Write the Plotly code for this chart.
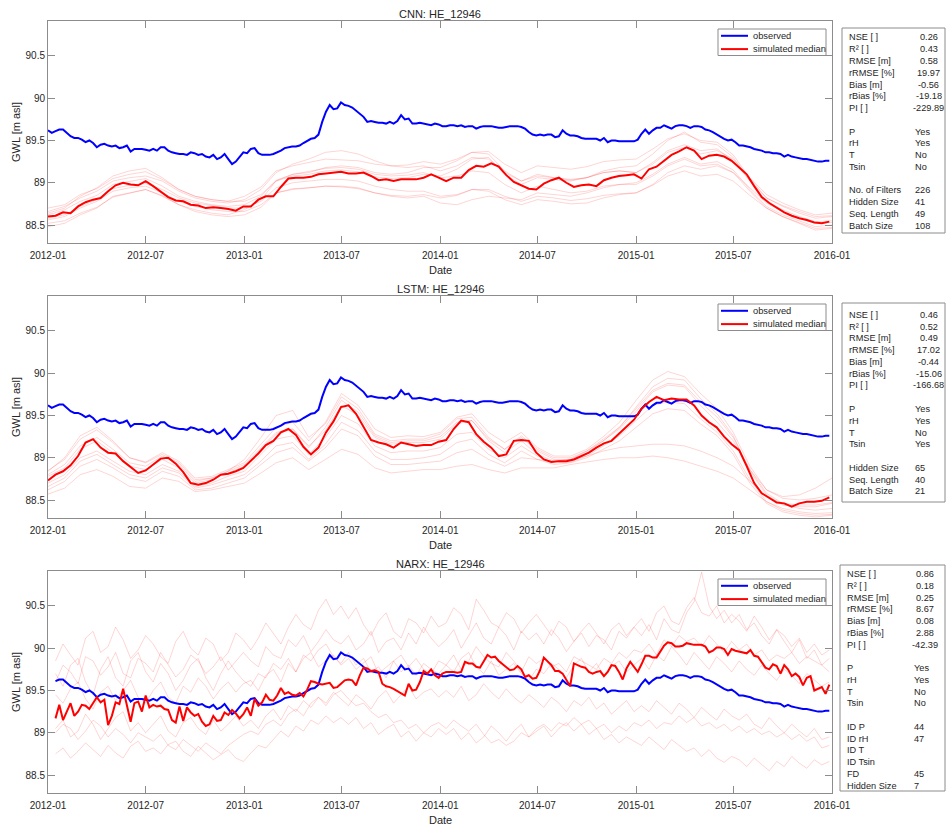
import plotly.graph_objects as go
import pandas as pd

# ---------------- data ----------------
x_tick_labels = ['2012-01', '2012-07', '2013-01', '2013-07', '2014-01',
                 '2014-07', '2015-01', '2015-07', '2016-01']
y_ticks = [88.5, 89, 89.5, 90, 90.5]
y_tick_labels = ['88.5', '89', '89.5', '90', '90.5']
legend_names = ['observed', 'simulated median']

# observed groundwater level, weekly from 2012-01-01 (209 values)
observed = [
    89.62, 89.59, 89.61, 89.63, 89.63, 89.59, 89.55, 89.53, 89.53, 89.51,
    89.48, 89.50, 89.47, 89.42, 89.45, 89.46, 89.44, 89.43, 89.44, 89.41,
    89.42, 89.44, 89.37, 89.40, 89.40, 89.40, 89.39, 89.38, 89.40, 89.38,
    89.42, 89.42, 89.38, 89.36, 89.35, 89.34, 89.34, 89.33, 89.36, 89.35,
    89.33, 89.34, 89.31, 89.30, 89.33, 89.28, 89.30, 89.34, 89.28, 89.22,
    89.25, 89.31, 89.36, 89.35, 89.40, 89.41, 89.35, 89.33, 89.33, 89.33,
    89.34, 89.36, 89.38, 89.41, 89.42, 89.43, 89.43, 89.44, 89.47, 89.50,
    89.52, 89.53, 89.57, 89.72, 89.84, 89.92, 89.87, 89.88, 89.95, 89.92,
    89.91, 89.89, 89.85, 89.81, 89.78, 89.72, 89.73, 89.72, 89.71, 89.71,
    89.70, 89.72, 89.70, 89.73, 89.80, 89.75, 89.76, 89.70, 89.70, 89.71,
    89.70, 89.69, 89.68, 89.70, 89.69, 89.67, 89.67, 89.68, 89.68, 89.67,
    89.68, 89.66, 89.67, 89.67, 89.64, 89.66, 89.67, 89.67, 89.67, 89.66,
    89.65, 89.65, 89.66, 89.67, 89.67, 89.67, 89.66, 89.64, 89.60, 89.57,
    89.56, 89.57, 89.56, 89.57, 89.57, 89.54, 89.55, 89.62, 89.58, 89.56,
    89.56, 89.55, 89.53, 89.52, 89.52, 89.52, 89.52, 89.50, 89.53, 89.48,
    89.50, 89.50, 89.49, 89.49, 89.49, 89.49, 89.49, 89.51, 89.58, 89.63,
    89.58, 89.62, 89.65, 89.65, 89.68, 89.66, 89.64, 89.67, 89.68, 89.68,
    89.67, 89.65, 89.67, 89.67, 89.66, 89.63, 89.62, 89.60, 89.57, 89.54,
    89.52, 89.50, 89.51, 89.48, 89.44, 89.44, 89.43, 89.42, 89.40, 89.39,
    89.38, 89.36, 89.36, 89.35, 89.35, 89.34, 89.31, 89.33, 89.31, 89.30,
    89.29, 89.28, 89.28, 89.27, 89.26, 89.25, 89.25, 89.26, 89.26]

# CNN simulated median, every 2 weeks from 2012-01-01 (105 values)
cnn_median = [
    88.60, 88.61, 88.65, 88.64, 88.72, 88.77, 88.80, 88.82, 88.90, 88.97,
    89.00, 88.98, 88.97, 89.02, 88.96, 88.89, 88.83, 88.79, 88.78, 88.74,
    88.73, 88.70, 88.71, 88.70, 88.69, 88.67, 88.72, 88.72, 88.80, 88.84,
    88.84, 88.95, 89.05, 89.06, 89.06, 89.07, 89.10, 89.11, 89.12, 89.13,
    89.11, 89.11, 89.12, 89.08, 89.03, 89.04, 89.02, 89.04, 89.04, 89.04,
    89.06, 89.10, 89.06, 89.02, 89.06, 89.06, 89.15, 89.20, 89.19, 89.23,
    89.19, 89.09, 89.01, 88.97, 88.93, 88.92, 88.99, 89.03, 89.06, 89.00,
    88.95, 88.97, 88.98, 88.96, 89.03, 89.06, 89.08, 89.09, 89.10, 89.05,
    89.16, 89.19, 89.26, 89.33, 89.37, 89.42, 89.38, 89.28, 89.32, 89.33,
    89.31, 89.26, 89.18, 89.10, 88.96, 88.83, 88.76, 88.70, 88.65, 88.61,
    88.58, 88.56, 88.53, 88.52, 88.54]

# CNN ensemble members, monthly from 2012-01 to 2016-01 (49 values each)
cnn_members = [
    [88.70, 88.74, 88.86, 88.93, 89.05, 89.10, 89.13, 89.04, 88.92, 88.84, 88.80, 88.78,
     88.84, 88.95, 89.14, 89.20, 89.24, 89.28, 89.27, 89.26, 89.22, 89.20, 89.21, 89.25,
     89.22, 89.28, 89.36, 89.37, 89.22, 89.12, 89.20, 89.18, 89.16, 89.19, 89.25, 89.27,
     89.28, 89.40, 89.52, 89.58, 89.50, 89.48, 89.33, 89.05, 88.82, 88.72, 88.64, 88.58, 88.60],
    [88.52, 88.55, 88.64, 88.71, 88.83, 88.88, 88.92, 88.85, 88.74, 88.66, 88.62, 88.60,
     88.62, 88.71, 88.88, 88.93, 88.94, 88.96, 88.95, 88.93, 88.88, 88.85, 88.84, 88.86,
     88.82, 88.85, 88.92, 88.92, 88.84, 88.78, 88.84, 88.82, 88.79, 88.81, 88.85, 88.87,
     88.88, 88.97, 89.08, 89.14, 89.08, 89.10, 89.02, 88.85, 88.70, 88.60, 88.53, 88.46, 88.47],
    [88.66, 88.72, 88.82, 88.90, 89.02, 89.06, 89.08, 89.02, 88.90, 88.82, 88.78, 88.76,
     88.80, 88.92, 89.12, 89.22, 89.28, 89.36, 89.38, 89.34, 89.26, 89.20, 89.18, 89.20,
     89.14, 89.20, 89.30, 89.28, 89.12, 89.02, 89.10, 89.06, 89.03, 89.06, 89.12, 89.14,
     89.12, 89.24, 89.38, 89.45, 89.38, 89.40, 89.26, 89.02, 88.82, 88.73, 88.66, 88.60, 88.61],
    [88.56, 88.60, 88.70, 88.78, 88.90, 88.94, 88.96, 88.88, 88.78, 88.72, 88.68, 88.66,
     88.66, 88.74, 88.88, 88.92, 88.94, 88.96, 88.96, 88.94, 88.88, 88.84, 88.82, 88.84,
     88.76, 88.74, 88.80, 88.84, 88.82, 88.80, 88.88, 88.86, 88.84, 88.88, 88.94, 88.98,
     89.00, 89.10, 89.22, 89.30, 89.22, 89.25, 89.15, 88.92, 88.72, 88.62, 88.55, 88.48, 88.50],
    [88.64, 88.70, 88.84, 88.94, 89.08, 89.14, 89.17, 89.06, 88.92, 88.84, 88.80, 88.78,
     88.78, 88.86, 89.02, 89.08, 89.10, 89.14, 89.15, 89.13, 89.07, 89.05, 89.06, 89.10,
     89.08, 89.16, 89.28, 89.30, 89.10, 88.98, 89.06, 89.04, 89.02, 89.06, 89.14, 89.18,
     89.20, 89.34, 89.50, 89.60, 89.48, 89.45, 89.30, 89.02, 88.78, 88.68, 88.60, 88.54, 88.55],
    [88.48, 88.52, 88.62, 88.70, 88.84, 88.88, 88.92, 88.84, 88.74, 88.68, 88.64, 88.62,
     88.68, 88.80, 89.02, 89.10, 89.13, 89.17, 89.18, 89.16, 89.10, 89.08, 89.09, 89.12,
     89.06, 89.08, 89.14, 89.12, 88.98, 88.88, 88.96, 88.92, 88.88, 88.90, 88.96, 88.98,
     88.98, 89.08, 89.20, 89.28, 89.20, 89.22, 89.12, 88.90, 88.70, 88.60, 88.52, 88.44, 88.46],
    [88.62, 88.68, 88.78, 88.85, 88.98, 89.02, 89.05, 88.96, 88.84, 88.78, 88.74, 88.72,
     88.74, 88.84, 89.03, 89.10, 89.12, 89.18, 89.20, 89.18, 89.12, 89.10, 89.12, 89.18,
     89.18, 89.26, 89.36, 89.34, 89.14, 89.02, 89.08, 89.06, 89.04, 89.06, 89.12, 89.14,
     89.12, 89.22, 89.36, 89.42, 89.34, 89.38, 89.28, 89.06, 88.86, 88.76, 88.68, 88.62, 88.64],
    [88.58, 88.62, 88.72, 88.80, 88.93, 88.97, 88.99, 88.92, 88.82, 88.76, 88.73, 88.70,
     88.70, 88.78, 88.94, 89.00, 89.02, 89.04, 89.04, 89.02, 88.96, 88.92, 88.90, 88.90,
     88.84, 88.86, 88.92, 88.90, 88.80, 88.74, 88.80, 88.78, 88.75, 88.76, 88.82, 88.86,
     88.88, 88.98, 89.12, 89.20, 89.16, 89.20, 89.12, 88.94, 88.76, 88.66, 88.58, 88.52, 88.53],
]

# LSTM simulated median, every 2 weeks (105 values)
lstm_median = [
    88.73, 88.80, 88.84, 88.91, 89.02, 89.18, 89.22, 89.12, 89.06, 89.05,
    88.96, 88.89, 88.82, 88.85, 88.92, 88.99, 89.00, 88.93, 88.83, 88.70,
    88.68, 88.70, 88.74, 88.80, 88.81, 88.84, 88.88, 88.96, 89.05, 89.15,
    89.20, 89.30, 89.34, 89.27, 89.13, 89.04, 89.12, 89.30, 89.43, 89.60,
    89.62, 89.52, 89.36, 89.21, 89.18, 89.16, 89.12, 89.18, 89.16, 89.14,
    89.15, 89.15, 89.19, 89.21, 89.34, 89.44, 89.42, 89.28, 89.19, 89.12,
    89.02, 89.04, 89.20, 89.21, 89.20, 89.06, 88.98, 88.95, 88.96, 88.96,
    88.98, 89.02, 89.06, 89.12, 89.17, 89.20, 89.28, 89.36, 89.45, 89.58,
    89.66, 89.72, 89.68, 89.70, 89.69, 89.69, 89.62, 89.50, 89.42, 89.36,
    89.25, 89.16, 89.09, 88.90, 88.70, 88.58, 88.52, 88.47, 88.46, 88.42,
    88.46, 88.48, 88.48, 88.49, 88.53]

# LSTM ensemble members, monthly (49 values each)
lstm_members = [
    [88.85, 88.98, 89.22, 89.33, 89.18, 89.00, 88.95, 89.06, 88.96, 88.76, 88.78, 88.86,
     88.94, 89.16, 89.36, 89.42, 89.20, 89.42, 89.76, 89.62, 89.34, 89.24, 89.26, 89.25,
     89.30, 89.48, 89.52, 89.30, 89.18, 89.30, 89.12, 89.02, 89.02, 89.10, 89.25, 89.42,
     89.68, 89.92, 90.02, 89.96, 89.76, 89.58, 89.30, 88.90, 88.62, 88.52, 88.50, 88.52, 88.56],
    [88.80, 88.92, 89.14, 89.24, 89.10, 88.94, 88.90, 89.02, 88.92, 88.72, 88.76, 88.84,
     88.92, 89.12, 89.30, 89.34, 89.12, 89.36, 89.68, 89.54, 89.26, 89.18, 89.20, 89.20,
     89.25, 89.42, 89.44, 89.22, 89.10, 89.26, 89.10, 89.00, 89.00, 89.08, 89.22, 89.36,
     89.58, 89.80, 89.88, 89.86, 89.66, 89.48, 89.24, 88.86, 88.58, 88.46, 88.44, 88.44, 88.47],
    [88.62, 88.72, 88.90, 88.98, 88.88, 88.76, 88.72, 88.84, 88.78, 88.62, 88.64, 88.70,
     88.76, 88.92, 89.06, 89.12, 88.96, 89.12, 89.34, 89.26, 89.02, 88.92, 88.92, 88.94,
     88.96, 89.06, 89.10, 88.98, 88.90, 89.00, 88.98, 88.96, 88.98, 89.02, 89.08, 89.12,
     89.14, 89.16, 89.16, 89.14, 89.08, 89.00, 88.90, 88.72, 88.55, 88.45, 88.40, 88.38, 88.40],
    [88.57, 88.64, 88.80, 88.86, 88.78, 88.66, 88.64, 88.76, 88.72, 88.60, 88.62, 88.66,
     88.70, 88.82, 88.94, 89.00, 88.86, 88.98, 89.10, 89.04, 88.88, 88.82, 88.84, 88.86,
     88.86, 88.90, 88.92, 88.86, 88.82, 88.88, 88.88, 88.88, 88.92, 88.95, 88.98, 89.00,
     89.00, 89.02, 89.00, 88.96, 88.90, 88.84, 88.76, 88.62, 88.48, 88.40, 88.36, 88.34, 88.35],
    [88.84, 89.00, 89.26, 89.36, 89.20, 89.00, 88.94, 89.04, 88.94, 88.74, 88.76, 88.82,
     88.90, 89.10, 89.28, 89.34, 89.14, 89.32, 89.62, 89.50, 89.24, 89.16, 89.18, 89.18,
     89.22, 89.40, 89.44, 89.20, 89.06, 89.20, 89.04, 88.96, 88.98, 89.06, 89.20, 89.34,
     89.55, 89.78, 89.86, 89.84, 89.62, 89.42, 89.20, 88.86, 88.62, 88.54, 88.56, 88.64, 88.76],
    [88.70, 88.80, 89.00, 89.08, 88.96, 88.84, 88.80, 88.92, 88.84, 88.66, 88.70, 88.78,
     88.84, 89.04, 89.22, 89.26, 89.04, 89.24, 89.50, 89.40, 89.14, 89.06, 89.08, 89.08,
     89.12, 89.28, 89.30, 89.10, 89.00, 89.14, 89.02, 88.94, 88.95, 89.02, 89.14, 89.26,
     89.44, 89.62, 89.66, 89.64, 89.46, 89.30, 89.08, 88.74, 88.48, 88.38, 88.34, 88.32, 88.33],
    [88.78, 88.88, 89.10, 89.20, 89.06, 88.90, 88.86, 88.98, 88.88, 88.70, 88.74, 88.84,
     88.98, 89.24, 89.50, 89.56, 89.24, 89.40, 89.72, 89.58, 89.28, 89.20, 89.22, 89.22,
     89.28, 89.46, 89.48, 89.24, 89.10, 89.24, 89.08, 88.98, 88.98, 89.08, 89.20, 89.36,
     89.60, 89.84, 89.94, 89.92, 89.70, 89.52, 89.26, 88.84, 88.56, 88.44, 88.42, 88.42, 88.46],
    [88.66, 88.76, 88.96, 89.04, 88.92, 88.80, 88.76, 88.88, 88.82, 88.64, 88.68, 88.74,
     88.80, 88.96, 89.14, 89.18, 88.98, 89.16, 89.42, 89.32, 89.08, 88.98, 88.98, 89.00,
     89.04, 89.18, 89.22, 89.04, 88.94, 89.08, 88.98, 88.92, 88.94, 89.00, 89.10, 89.20,
     89.36, 89.52, 89.58, 89.56, 89.40, 89.26, 89.04, 88.70, 88.46, 88.36, 88.32, 88.30, 88.32],
]

# NARX simulated median, weekly from week 2 (207 values)
narx_median = [
    89.17, 89.33, 89.15, 89.25, 89.35, 89.20, 89.25, 89.33, 89.32, 89.28,
    89.35, 89.42, 89.36, 89.39, 89.09, 89.20, 89.36, 89.34, 89.52, 89.32,
    89.13, 89.35, 89.37, 89.25, 89.44, 89.30, 89.33, 89.31, 89.32, 89.28,
    89.27, 89.15, 89.12, 89.31, 89.14, 89.30, 89.24, 89.20, 89.22, 89.13,
    89.08, 89.10, 89.20, 89.14, 89.15, 89.24, 89.21, 89.27, 89.23, 89.17,
    89.22, 89.30, 89.20, 89.40, 89.32, 89.36, 89.45, 89.39, 89.38, 89.44,
    89.53, 89.46, 89.48, 89.45, 89.44, 89.47, 89.43, 89.51, 89.61, 89.60,
    89.58, 89.57, 89.58, 89.59, 89.53, 89.54, 89.58, 89.62, 89.63, 89.62,
    89.56, 89.68, 89.77, 89.76, 89.73, 89.74, 89.72, 89.58, 89.55, 89.54,
    89.52, 89.49, 89.47, 89.44, 89.58, 89.50, 89.51, 89.60, 89.73, 89.70,
    89.75, 89.68, 89.65, 89.70, 89.72, 89.72, 89.72, 89.71, 89.72, 89.84,
    89.82, 89.82, 89.78, 89.77, 89.85, 89.92, 89.89, 89.90, 89.85, 89.81,
    89.78, 89.74, 89.75, 89.79, 89.75, 89.66, 89.68, 89.64, 89.65, 89.74,
    89.89, 89.85, 89.80, 89.73, 89.73, 89.70, 89.62, 89.55, 89.82, 89.80,
    89.78, 89.77, 89.72, 89.70, 89.72, 89.73, 89.67, 89.72, 89.80, 89.79,
    89.72, 89.63, 89.76, 89.84, 89.78, 89.72, 89.81, 89.91, 89.91, 89.89,
    89.89, 89.96, 90.03, 90.07, 90.06, 90.02, 90.02, 90.03, 90.06, 90.05,
    90.04, 90.04, 90.04, 90.02, 89.95, 89.97, 90.01, 90.01, 89.99, 89.92,
    89.99, 89.97, 89.96, 89.95, 89.94, 89.98, 89.91, 89.90, 89.83, 89.77,
    89.75, 89.81, 89.79, 89.70, 89.80, 89.75, 89.67, 89.70, 89.66, 89.56,
    89.65, 89.67, 89.50, 89.52, 89.54, 89.46, 89.57]

# NARX ensemble members, every 2 weeks from week 2 (104 values each)
narx_members = [
    [89.85, 90.05, 89.92, 89.80, 90.12, 90.20, 89.95, 90.02, 90.25, 90.10, 89.88, 89.98, 90.15,
     90.05, 89.90, 89.82, 90.08, 90.20, 90.00, 89.92, 90.12, 90.05, 89.85, 89.95, 90.18, 90.10,
     89.98, 90.12, 90.30, 90.18, 90.05, 90.25, 90.40, 90.28, 90.22, 90.45, 90.58, 90.40, 90.50,
     90.35, 90.48, 90.28, 90.15, 90.32, 90.42, 90.20, 90.12, 90.35, 90.30, 90.18, 90.38, 90.25,
     90.30, 90.48, 90.40, 90.22, 90.58, 90.45, 90.30, 90.25, 90.42, 90.35, 90.18, 90.30, 90.40,
     90.28, 90.15, 90.32, 90.25, 90.08, 90.20, 90.30, 90.18, 90.05, 90.22, 90.30, 90.15, 90.25,
     90.35, 90.20, 90.42, 90.50, 90.32, 90.28, 90.48, 90.60, 90.42, 90.38, 90.50, 90.30, 90.40,
     90.32, 90.20, 90.38, 90.25, 90.10, 90.22, 90.15, 90.02, 90.12, 89.95, 90.05, 89.92, 89.98],
    [89.60, 89.80, 89.72, 89.58, 89.90, 89.85, 89.68, 89.78, 89.95, 89.70, 89.65, 89.88, 89.82,
     89.72, 89.95, 89.80, 89.66, 89.75, 89.92, 89.85, 89.70, 89.78, 89.90, 89.74, 89.85, 89.95,
     89.85, 89.78, 90.02, 89.92, 89.88, 90.10, 90.02, 90.15, 89.96, 90.08, 90.22, 90.10, 90.05,
     90.15, 89.98, 90.05, 90.20, 89.95, 90.08, 90.12, 89.98, 90.18, 90.05, 90.25, 90.12, 90.02,
     90.10, 90.22, 90.00, 90.15, 90.30, 90.12, 90.05, 90.25, 90.15, 89.98, 90.20, 90.10, 90.18,
     90.05, 90.22, 90.12, 89.96, 90.08, 90.18, 90.02, 90.15, 90.10, 89.98, 90.20, 90.12, 90.25,
     90.15, 90.28, 90.10, 90.35, 90.22, 90.18, 90.42, 90.55, 90.90, 90.50, 90.35, 90.45, 90.30,
     90.40, 90.22, 90.30, 90.15, 90.05, 90.22, 90.08, 89.95, 90.10, 89.88, 89.98, 89.80, 89.72],
    [89.45, 89.35, 89.52, 89.60, 89.40, 89.28, 89.48, 89.55, 89.38, 89.50, 89.62, 89.42, 89.35,
     89.50, 89.60, 89.42, 89.35, 89.55, 89.48, 89.65, 89.55, 89.40, 89.52, 89.60, 89.48, 89.58,
     89.62, 89.50, 89.68, 89.75, 89.60, 89.82, 89.72, 89.88, 89.95, 89.78, 89.85, 89.92, 89.80,
     89.88, 89.75, 89.82, 89.90, 89.70, 89.78, 89.85, 89.72, 89.80, 89.68, 89.82, 89.75, 89.70,
     89.80, 89.72, 89.88, 89.95, 89.78, 89.70, 89.85, 89.68, 89.75, 89.82, 89.70, 89.62, 89.75,
     89.70, 89.82, 89.75, 89.65, 89.80, 89.88, 89.72, 89.82, 89.68, 89.78, 89.85, 89.72, 89.80,
     89.88, 89.75, 89.92, 89.85, 90.02, 89.92, 89.80, 89.95, 89.85, 89.75, 89.90, 89.82, 89.72,
     89.85, 89.75, 89.68, 89.80, 89.70, 89.62, 89.75, 89.68, 89.58, 89.70, 89.62, 89.55, 89.60],
    [89.05, 89.15, 88.95, 89.02, 89.22, 89.10, 88.92, 89.05, 89.18, 89.25, 89.02, 89.12, 89.00,
     89.10, 89.20, 89.02, 88.95, 89.12, 89.18, 89.05, 88.98, 89.15, 89.02, 89.10, 89.20, 89.08,
     89.15, 89.05, 89.20, 89.28, 89.15, 89.32, 89.25, 89.38, 89.30, 89.42, 89.35, 89.48, 89.40,
     89.32, 89.45, 89.38, 89.28, 89.42, 89.50, 89.35, 89.45, 89.55, 89.40, 89.48, 89.52, 89.42,
     89.50, 89.42, 89.55, 89.38, 89.45, 89.58, 89.48, 89.40, 89.52, 89.42, 89.35, 89.45, 89.38,
     89.30, 89.42, 89.35, 89.25, 89.38, 89.32, 89.42, 89.28, 89.35, 89.22, 89.30, 89.38, 89.25,
     89.32, 89.25, 89.38, 89.30, 89.22, 89.35, 89.28, 89.18, 89.30, 89.22, 89.15, 89.28, 89.20,
     89.15, 89.22, 89.10, 89.05, 89.18, 89.08, 89.00, 89.10, 89.02, 88.95, 89.05, 88.92, 88.95],
    [88.75, 88.82, 88.70, 88.78, 88.88, 88.80, 88.72, 88.85, 88.76, 88.70, 88.84, 88.90, 88.78,
     88.82, 88.75, 88.86, 88.90, 88.78, 88.72, 88.84, 88.76, 88.68, 88.74, 88.80, 88.70, 88.66,
     88.76, 88.85, 88.82, 88.92, 89.02, 88.95, 89.08, 89.02, 89.15, 89.10, 89.20, 89.12, 89.18,
     89.10, 89.18, 89.05, 89.12, 88.98, 89.05, 89.10, 88.95, 89.02, 88.90, 89.00, 88.95, 89.05,
     88.98, 89.05, 88.92, 89.00, 88.88, 88.95, 89.08, 89.00, 88.90, 89.02, 89.10, 88.95, 89.02,
     89.08, 88.95, 89.05, 89.12, 89.02, 89.10, 88.98, 89.05, 88.92, 88.98, 88.88, 88.95, 88.90,
     88.85, 88.95, 88.88, 88.80, 88.92, 88.85, 88.78, 88.82, 88.72, 88.80, 88.70, 88.65, 88.72,
     88.68, 88.60, 88.70, 88.62, 88.55, 88.66, 88.60, 88.72, 88.64, 88.58, 88.68, 88.62, 88.66],
    [89.00, 89.10, 89.05, 88.92, 89.02, 89.15, 89.08, 88.95, 89.05, 88.98, 88.88, 89.00, 88.95,
     88.90, 88.98, 88.85, 88.80, 88.92, 88.85, 88.78, 88.88, 88.82, 88.75, 88.85, 88.92, 88.98,
     89.02, 88.98, 89.10, 89.15, 89.08, 89.22, 89.28, 89.20, 89.35, 89.42, 89.32, 89.45, 89.50,
     89.40, 89.32, 89.35, 89.25, 89.18, 89.22, 89.12, 89.15, 89.05, 89.10, 89.00, 89.08, 89.12,
     89.05, 89.15, 89.08, 89.02, 89.10, 88.98, 88.88, 88.92, 88.85, 88.90, 89.00, 88.95, 89.05,
     89.10, 89.02, 89.12, 89.08, 89.18, 89.10, 89.15, 89.05, 89.10, 89.00, 89.08, 89.02, 89.12,
     89.08, 89.15, 89.05, 89.12, 89.10, 89.20, 89.12, 89.18, 89.08, 89.12, 89.05, 89.10, 89.02,
     89.08, 89.00, 89.05, 88.98, 89.02, 88.95, 89.00, 88.92, 88.98, 88.90, 88.95, 88.82, 88.85],
    [89.70, 89.55, 89.80, 89.88, 89.60, 89.45, 89.75, 89.90, 89.65, 89.55, 89.85, 89.95, 89.72,
     89.60, 89.82, 89.70, 89.50, 89.62, 89.80, 89.88, 89.65, 89.50, 89.70, 89.85, 89.72, 89.62,
     89.55, 89.70, 89.65, 89.82, 89.75, 89.88, 89.72, 89.92, 89.85, 89.98, 90.05, 89.90, 89.82,
     89.95, 89.80, 89.88, 89.72, 89.78, 89.65, 89.85, 89.92, 89.78, 89.88, 89.75, 89.70, 89.85,
     89.80, 89.92, 89.75, 89.85, 90.02, 89.90, 89.82, 89.78, 89.95, 89.85, 89.72, 89.90, 89.82,
     89.88, 89.78, 89.82, 89.72, 89.90, 89.85, 89.80, 89.75, 89.88, 89.82, 89.95, 89.88, 89.98,
     89.95, 90.05, 89.92, 90.10, 90.02, 90.15, 90.08, 90.12, 90.02, 90.15, 90.05, 89.95, 90.08,
     89.98, 90.05, 89.92, 89.98, 89.85, 89.92, 89.88, 89.95, 89.82, 89.90, 89.85, 89.80, 89.88],
]

# side-box texts
metric_labels = ['NSE [ ]', 'R² [ ]', 'RMSE [m]', 'rRMSE [%]', 'Bias [m]', 'rBias [%]', 'PI [ ]']
input_labels = ['P', 'rH', 'T', 'Tsin']
cnn_metrics = ['0.26', '0.43', '0.58', '19.97', '-0.56', '-19.18', '-229.89']
lstm_metrics = ['0.46', '0.52', '0.49', '17.02', '-0.44', '-15.06', '-166.68']
narx_metrics = ['0.86', '0.18', '0.25', '8.67', '0.08', '2.88', '-42.39']
cnn_inputs = ['Yes', 'Yes', 'No', 'No']
lstm_inputs = ['Yes', 'Yes', 'No', 'Yes']
narx_inputs = ['Yes', 'Yes', 'No', 'No']
cnn_hp_labels = ['No. of Filters', 'Hidden Size', 'Seq. Length', 'Batch Size']
cnn_hp = ['226', '41', '49', '108']
lstm_hp_labels = ['Hidden Size', 'Seq. Length', 'Batch Size']
lstm_hp = ['65', '40', '21']
narx_hp_labels = ['ID P', 'ID rH', 'ID T', 'ID Tsin', 'FD', 'Hidden Size']
narx_hp = ['44', '47', '', '', '45', '7']
titles = ['CNN: HE_12946', 'LSTM: HE_12946', 'NARX: HE_12946']

# ---------------- dates ----------------
weekly = pd.date_range('2012-01-01', periods=209, freq='7D')
biweekly0 = weekly[0::2]          # weeks 0,2,...,208
biweekly2 = weekly[2::2]          # weeks 2,4,...,208
monthly = pd.date_range('2012-01-01', '2016-01-01', freq='MS')
x_tick_vals = [pd.Timestamp(t + '-01') for t in x_tick_labels]

# ---------------- layout helpers ----------------
W, H = 947, 828
FONT = 'Liberation Sans, Arial, Helvetica, sans-serif'
TXT = '#262626'
LINE = '#8c8c8c'
OBS_C = '#0000ff'
MED_C = '#ff0000'
def px(x): return x / W
def py(y): return 1 - y / H

panels = [
    dict(top=21, bot=243, box=(842, 28, 945, 233), lab_x=847, val_x=928.5, col2_x=913, row0=37.5,
         metrics=cnn_metrics, inputs=cnn_inputs, hpl=cnn_hp_labels, hp=cnn_hp,
         med_x=biweekly0, med=cnn_median, mem_x=monthly, members=cnn_members, obs_x=weekly, obs=observed),
    dict(top=296, bot=518, box=(842, 303, 945, 502), lab_x=847, val_x=928.5, col2_x=913, row0=315,
         metrics=lstm_metrics, inputs=lstm_inputs, hpl=lstm_hp_labels, hp=lstm_hp,
         med_x=biweekly0, med=lstm_median, mem_x=monthly, members=lstm_members, obs_x=weekly, obs=observed),
    dict(top=571, bot=793, box=(840, 565, 945, 791), lab_x=845, val_x=924.5, col2_x=912, row0=574,
         metrics=narx_metrics, inputs=narx_inputs, hpl=narx_hp_labels, hp=narx_hp,
         med_x=weekly[2:], med=narx_median, mem_x=biweekly2, members=narx_members, obs_x=weekly[2:], obs=observed[2:]),
]

fig = go.Figure()
annotations = []
shapes = []
layout = dict()
X0, X1 = 48, 832
ROW = 11.75

def txt(text, x, y, anchor='left', size=9.2, angle=0):
    return dict(text=text, x=px(x), y=py(y), xref='paper', yref='paper', showarrow=False,
                xanchor=anchor, yanchor='middle', textangle=angle,
                font=dict(size=size, color=TXT, family=FONT))

for k, p in enumerate(panels):
    n = '' if k == 0 else str(k + 1)
    xa, ya = 'x' + n, 'y' + n
    for m in p['members']:
        fig.add_trace(go.Scatter(x=p['mem_x'], y=m, mode='lines', xaxis=xa, yaxis=ya,
                                 line=dict(color='rgba(255,0,0,0.17)', width=1),
                                 showlegend=False, hoverinfo='skip'))
    fig.add_trace(go.Scatter(x=p['obs_x'], y=p['obs'], mode='lines', name=legend_names[0], xaxis=xa, yaxis=ya,
                             line=dict(color=OBS_C, width=2), showlegend=False))
    fig.add_trace(go.Scatter(x=p['med_x'], y=p['med'], mode='lines', name=legend_names[1], xaxis=xa, yaxis=ya,
                             line=dict(color=MED_C, width=2), showlegend=False))

    layout['xaxis' + n] = dict(domain=[px(X0), px(X1)], anchor=ya, range=['2012-01-01', '2016-01-01'],
                               tickvals=x_tick_vals, ticktext=x_tick_labels, ticks='inside', ticklen=7,
                               tickcolor=LINE, showline=True, linecolor=LINE, linewidth=1, mirror='ticks',
                               showgrid=False, zeroline=False, automargin=False, ticklabelstandoff=3,
                               tickfont=dict(size=10, color=TXT, family=FONT))
    layout['yaxis' + n] = dict(domain=[py(p['bot']), py(p['top'])], anchor=xa, range=[88.287, 90.914],
                               tickvals=y_ticks, ticktext=y_tick_labels,
                               ticks='inside', ticklen=7, tickcolor=LINE, showline=True, linecolor=LINE,
                               linewidth=1, mirror='ticks', showgrid=False, zeroline=False, automargin=False,
                               tickfont=dict(size=10, color=TXT, family=FONT))

    # title, axis labels
    annotations.append(txt(titles[k], (X0 + X1) / 2, p['top'] - 7, 'center', 11))
    annotations.append(txt('Date', (X0 + X1) / 2, p['bot'] + 27, 'center', 11))
    annotations.append(txt('GWL [m asl]', 16, (p['top'] + p['bot']) / 2, 'center', 11, -90))

    # legend (box, line samples, labels)
    lt = p['top'] + 8
    shapes.append(dict(type='rect', xref='paper', yref='paper', x0=px(718), x1=px(826),
                       y0=py(lt + 26.5), y1=py(lt), line=dict(color=LINE, width=1), fillcolor='white'))
    for r, (name, col) in enumerate(zip(legend_names, [OBS_C, MED_C])):
        yy = lt + 6.8 + r * 13.3
        shapes.append(dict(type='line', xref='paper', yref='paper', x0=px(721), x1=px(748),
                           y0=py(yy), y1=py(yy), line=dict(color=col, width=2)))
        annotations.append(txt(name, 750.5, yy, 'left', 9.3))

    # side box
    bx0, by0, bx1, by1 = p['box']
    shapes.append(dict(type='rect', xref='paper', yref='paper', x0=px(bx0), x1=px(bx1), y0=py(by1), y1=py(by0),
                       line=dict(color=LINE, width=1), fillcolor='white', layer='below'))
    rows = []
    for lab, val in zip(metric_labels, p['metrics']):
        rows.append((lab, val, 'c'))
    rows.append(None)
    for lab, val in zip(input_labels, p['inputs']):
        rows.append((lab, val, 'l'))
    rows.append(None)
    for lab, val in zip(p['hpl'], p['hp']):
        rows.append((lab, val, 'l'))
    for r, row in enumerate(rows):
        if row is None:
            continue
        yy = p['row0'] + r * ROW
        lab, val, al = row
        annotations.append(txt(lab, p['lab_x'], yy))
        if val:
            if al == 'c':
                annotations.append(txt(val, p['val_x'], yy, 'center'))
            else:
                annotations.append(txt(val, p['col2_x'], yy, 'left'))

fig.update_layout(**layout)
fig.update_layout(width=W, height=H, autosize=False,
                  margin=dict(l=0, r=0, t=0, b=0, pad=0, autoexpand=False),
                  paper_bgcolor='white', plot_bgcolor='white', annotations=annotations, shapes=shapes,
                  font=dict(family=FONT, color=TXT), hovermode=False, showlegend=False)
fig.write_html('out.html')
